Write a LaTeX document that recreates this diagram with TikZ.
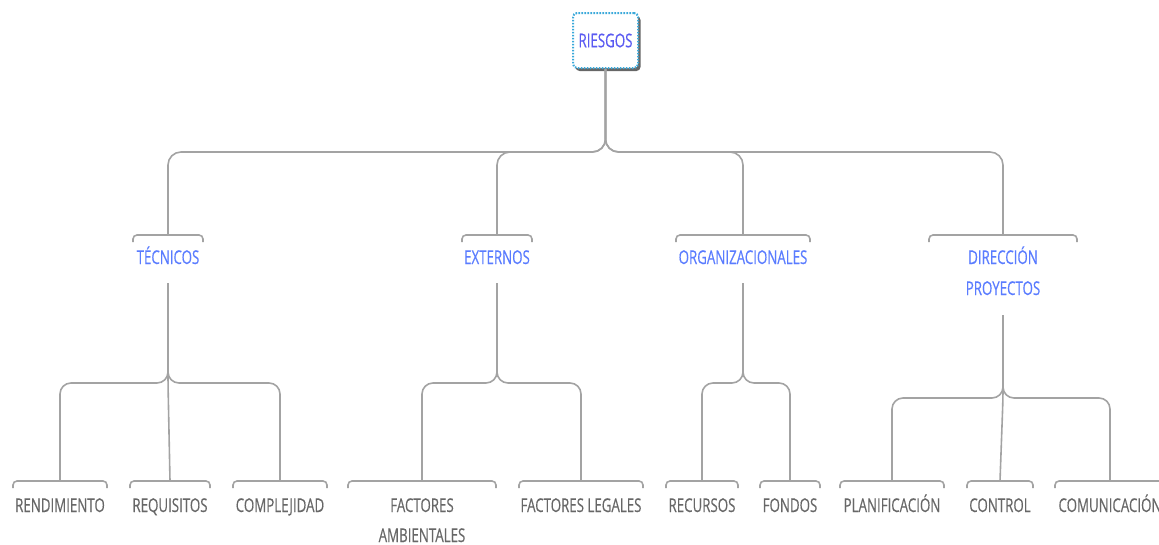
\documentclass[tikz,border=0pt]{standalone}
\usepackage{fontspec}
\setmainfont[FakeStretch=0.7,FakeBold=0.35]{Open Sans}
\usetikzlibrary{shadows,calc}

\definecolor{lineg}{HTML}{A3A3A3}
\definecolor{txtg}{HTML}{676767}
\definecolor{lvlblue}{HTML}{5A7CFF}
\definecolor{rootblue}{HTML}{5B5BF2}
\definecolor{rootedge}{HTML}{3BA9DA}

\tikzset{
  conn/.style={draw=lineg, line width=1.6pt, rounded corners=13pt},
  subconn/.style={draw=lineg, line width=1.6pt, rounded corners=11pt},
  brk/.style={draw=lineg, line width=1.6pt, rounded corners=4pt},
  lvl/.style={text=lvlblue, font=\fontsize{19}{31}\selectfont, align=center, inner sep=0pt, anchor=base},
  leaf/.style={text=txtg, font=\fontsize{19}{30}\selectfont, align=center, inner sep=0pt, anchor=base},
  rootbox/.style={draw=rootedge, dash pattern=on 1.6pt off 1.4pt, line width=2pt,
    fill=white, rounded corners=4pt, minimum width=65pt, minimum height=55pt,
    text=rootblue, font=\fontsize{19}{24}\selectfont, inner sep=0pt,
    drop shadow={shadow xshift=2.5pt, shadow yshift=-3pt, fill=black, opacity=0.6}}
}

% bracket over a label: #1 = top-centre coordinate, #2 = half width
\newcommand{\labelbracket}[2]{%
  \draw[brk] ($(#1)+(-#2,7)$) -- ($(#1)+(-#2,0)$) -- ($(#1)+(#2,0)$) -- ($(#1)+(#2,7)$);}

\begin{document}
\begin{tikzpicture}[x=1pt,y=-1pt]
\useasboundingbox (0,0) rectangle (1159,544);

% root
\node[rootbox] (root) at (605.5,40.5) {RIESGOS};
\coordinate (f0) at (605.5,152);

% second level (base = baseline of the last line)
\node[lvl] (tec) at (168,264) {TÉCNICOS};
\node[lvl] (ext) at (497,264) {EXTERNOS};
\node[lvl] (org) at (743,264) {ORGANIZACIONALES};
\node[lvl] (dir) at (1003,295) {DIRECCIÓN\\PROYECTOS};

\coordinate (tecb) at (168,235);
\coordinate (extb) at (497,235);
\coordinate (orgb) at (743,235);
\coordinate (dirb) at (1003,235);

\coordinate (tecs) at (168,283);
\coordinate (exts) at (497,283);
\coordinate (orgs) at (743,283);
\coordinate (dirs) at (1003,315);

\coordinate (tecf) at (168,383);
\coordinate (extf) at (497,383);
\coordinate (orgf) at (743,383);
\coordinate (dirf) at (1003,398);

% leaves
\node[leaf] (ren)  at (60,512)  {RENDIMIENTO};
\node[leaf] (req)  at (170,512) {REQUISITOS};
\node[leaf] (com)  at (280,512) {COMPLEJIDAD};
\node[leaf] (fam)  at (422,542) {FACTORES\\AMBIENTALES};
\node[leaf] (fle)  at (581,512) {FACTORES LEGALES};
\node[leaf] (rec)  at (702,512) {RECURSOS};
\node[leaf] (fon)  at (790,512) {FONDOS};
\node[leaf] (pla)  at (892,512) {PLANIFICACIÓN};
\node[leaf] (ctl)  at (1000,512) {CONTROL};
\node[leaf] (comu) at (1110,512) {COMUNICACIÓN};

\coordinate (renb)  at (60,481);
\coordinate (reqb)  at (170,481);
\coordinate (comb)  at (280,481);
\coordinate (famb)  at (422,481);
\coordinate (fleb)  at (581,481);
\coordinate (recb)  at (702,481);
\coordinate (fonb)  at (790,481);
\coordinate (plab)  at (892,481);
\coordinate (ctlb)  at (1000,481);
\coordinate (comub) at (1110,481);

% brackets
\labelbracket{tecb}{35}
\labelbracket{extb}{35}
\labelbracket{orgb}{67}
\labelbracket{dirb}{74}
\labelbracket{renb}{47}
\labelbracket{reqb}{40}
\labelbracket{comb}{47}
\labelbracket{famb}{74}
\labelbracket{fleb}{62}
\labelbracket{recb}{36}
\labelbracket{fonb}{30}
\labelbracket{plab}{52}
\labelbracket{ctlb}{33}
\labelbracket{comub}{55}

% root fork
\draw[conn] (root.south) -- (f0) -| (tecb);
\draw[conn] (root.south) -- (f0) -| (extb);
\draw[conn] (root.south) -- (f0) -| (orgb);
\draw[conn] (root.south) -- (f0) -| (dirb);

% TÉCNICOS
\draw[subconn] (tecs) -- (tecf) -| (renb);
\draw[subconn] (tecs) -- (tecf) -| (comb);
\draw[subconn] (tecs) -- (tecf) -- (reqb);

% EXTERNOS
\draw[subconn] (exts) -- (extf) -| (famb);
\draw[subconn] (exts) -- (extf) -| (fleb);

% ORGANIZACIONALES
\draw[subconn] (orgs) -- (orgf) -| (recb);
\draw[subconn] (orgs) -- (orgf) -| (fonb);

% DIRECCIÓN PROYECTOS
\draw[subconn] (dirs) -- (dirf) -| (plab);
\draw[subconn] (dirs) -- (dirf) -| (comub);
\draw[subconn] (dirs) -- (dirf) -- (ctlb);
\end{tikzpicture}
\end{document}
